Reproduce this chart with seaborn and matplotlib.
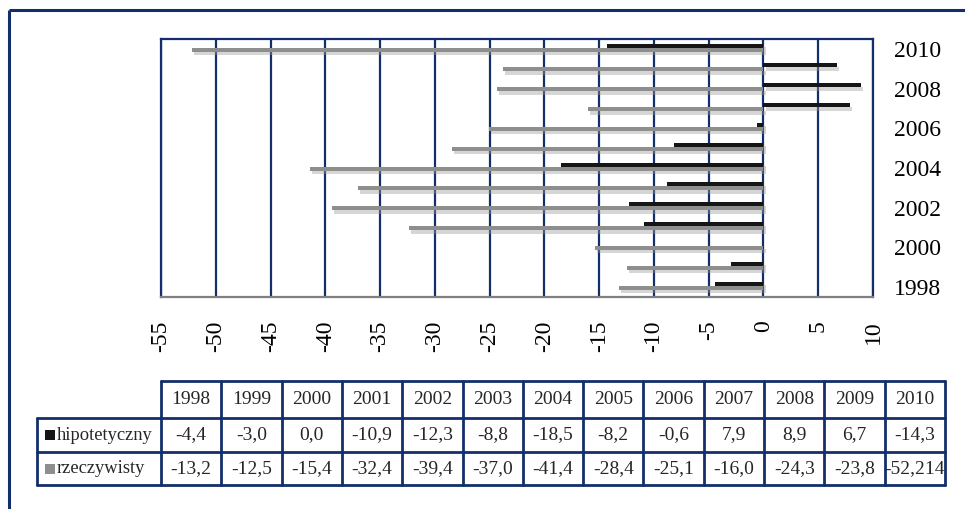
import matplotlib
matplotlib.use("Agg")
import matplotlib.pyplot as plt
import matplotlib.patheffects as pe
from matplotlib.patches import Rectangle
import pandas as pd
import seaborn as sns

# --- data -------------------------------------------------------------
years = [1998, 1999, 2000, 2001, 2002, 2003, 2004, 2005, 2006, 2007, 2008, 2009, 2010]
hipotetyczny = [-4.4, -3.0, 0.0, -10.9, -12.3, -8.8, -18.5, -8.2, -0.6, 7.9, 8.9, 6.7, -14.3]
rzeczywisty = [-13.2, -12.5, -15.4, -32.4, -39.4, -37.0, -41.4, -28.4, -25.1, -16.0, -24.3, -23.8, -52.214]
series_names = ["hipotetyczny", "rzeczywisty"]
series_colors = ["#151515", "#8e8e8e"]
x_ticks = list(range(-55, 11, 5))

NAVY = "#132f6b"

sns.set_theme(style="white")
plt.rcParams["font.family"] = ["Liberation Serif", "DejaVu Serif"]
plt.rcParams["axes.unicode_minus"] = False

df = pd.DataFrame({
    "rok": [str(y) for y in years] * 2,
    "wartosc": hipotetyczny + rzeczywisty,
    "seria": [series_names[0]] * len(years) + [series_names[1]] * len(years),
})
order = [str(y) for y in reversed(years)]

W, H = 965, 509
fig = plt.figure(figsize=(W / 100, H / 100), dpi=100)
fig.patch.set_facecolor("white")

# plot area in pixel terms
px_l, px_r, px_t, px_b = 161, 873, 39, 297
ax = fig.add_axes([px_l / W, 1 - px_b / H, (px_r - px_l) / W, (px_b - px_t) / H])

sns.barplot(
    data=df, x="wartosc", y="rok", hue="seria", order=order,
    hue_order=series_names, palette=series_colors, orient="h",
    width=0.4, gap=0, saturation=1, errorbar=None, legend=False, ax=ax,
)

# soft drop shadow under every bar
shadow = [pe.SimplePatchShadow(offset=(1.5, -2.5), shadow_rgbFace="#9a9a9a", alpha=0.4), pe.Normal()]
for patch in ax.patches:
    patch.set_linewidth(0)
    patch.set_y(patch.get_y() - 0.07)
    patch.set_path_effects(shadow)

ax.set_xlim(-55, 10)
ax.set_xticks(x_ticks)
ax.set_xticklabels([str(t) for t in x_ticks], rotation=90, fontsize=17)
ax.tick_params(axis="x", length=0, pad=17, colors="black")

ax.yaxis.tick_right()
ax.set_yticks(range(0, len(order), 2))
ax.set_yticklabels(order[::2], fontsize=17)
ax.tick_params(axis="y", length=0, pad=15, colors="black", left=False)
ax.set_xlabel("")
ax.set_ylabel("")

ax.grid(axis="x", color=NAVY, linewidth=1.6)
ax.grid(axis="y", visible=False)
ax.set_axisbelow(True)
for side in ("left", "top", "right"):
    ax.spines[side].set_color(NAVY)
    ax.spines[side].set_linewidth(1.6)
ax.spines["bottom"].set_color("#808080")
ax.spines["bottom"].set_linewidth(1.6)

# --- data table and outer frame, drawn in pixel space -----------------
ov = fig.add_axes([0, 0, 1, 1], facecolor="none")
ov.set_xlim(0, W)
ov.set_ylim(H, 0)
ov.axis("off")

ov.plot([9, W], [10, 10], color=NAVY, lw=2.2, solid_capstyle="butt")
ov.plot([9, 9], [10, H], color=NAVY, lw=2.2, solid_capstyle="butt")


def fmt(v):
    s = f"{v:.1f}" if abs(v * 10 - round(v * 10)) < 1e-9 else f"{v:g}"
    return s.replace(".", ",")


tab_l, tab_c0, tab_r = 37, 161, 945
rows_y = [381, 418, 452, 485]
col_w = (tab_r - tab_c0) / len(years)
lw_t = 2.0

# horizontal lines
ov.plot([tab_c0, tab_r], [rows_y[0]] * 2, color=NAVY, lw=lw_t)
for yy in rows_y[1:]:
    ov.plot([tab_l, tab_r], [yy] * 2, color=NAVY, lw=lw_t)
# vertical lines
ov.plot([tab_l, tab_l], [rows_y[1], rows_y[3]], color=NAVY, lw=lw_t)
for i in range(len(years) + 1):
    xx = tab_c0 + i * col_w
    ov.plot([xx, xx], [rows_y[0], rows_y[3]], color=NAVY, lw=lw_t)

tfs = 14
for i, yr in enumerate(years):
    cx = tab_c0 + (i + 0.5) * col_w
    ov.text(cx, (rows_y[0] + rows_y[1]) / 2, str(yr), ha="center", va="center", fontsize=tfs)
    ov.text(cx, (rows_y[1] + rows_y[2]) / 2, fmt(hipotetyczny[i]), ha="center", va="center", fontsize=tfs)
    ov.text(cx, (rows_y[2] + rows_y[3]) / 2, fmt(rzeczywisty[i]), ha="center", va="center", fontsize=tfs)

for k, (name, col) in enumerate(zip(series_names, series_colors)):
    cy = (rows_y[k + 1] + rows_y[k + 2]) / 2
    ov.add_patch(Rectangle((45, cy - 5), 10, 10, facecolor=col, edgecolor="none"))
    ov.text(57, cy, name, ha="left", va="center", fontsize=13.3)

fig.savefig("out.png", dpi=100, facecolor="white")
